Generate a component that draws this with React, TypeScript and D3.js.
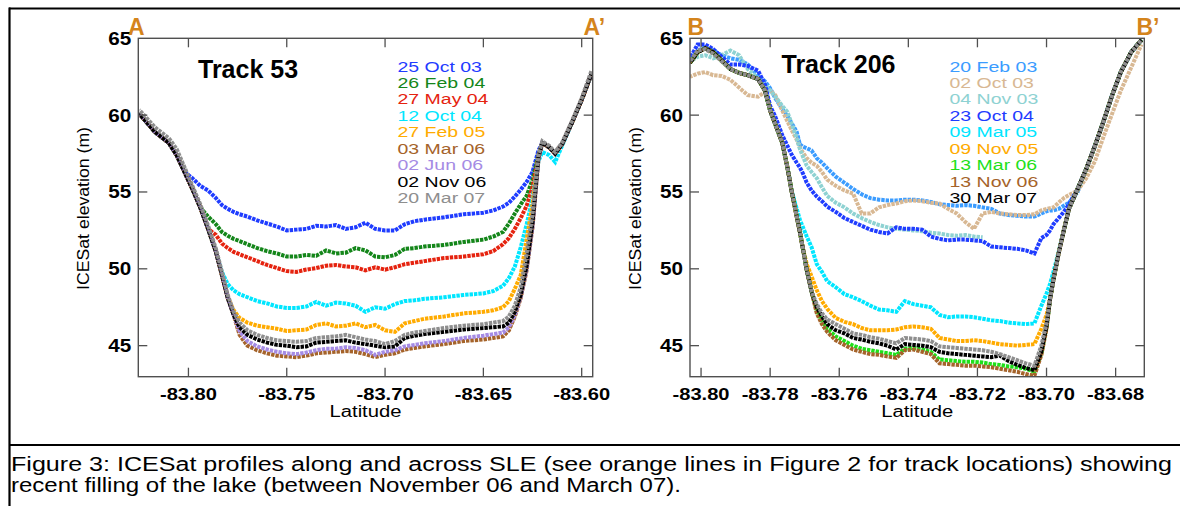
import * as d3 from 'd3'

// elevation axis (both panels)
const Y_MIN = 42.98
const Y_MAX = 65
const Y_TICKS = [45, 50, 55, 60, 65]

// ---- Track 53 ----
const T53_TICKS = [-83.8, -83.75, -83.7, -83.65, -83.6]
const T53_LAT = [-83.825, -83.817, -83.81, -83.806, -83.802, -83.798, -83.794, -83.79, -83.786, -83.783,
  -83.78, -83.777, -83.774, -83.77, -83.765, -83.76, -83.755, -83.75, -83.745, -83.74,
  -83.735, -83.73, -83.725, -83.72, -83.715, -83.71, -83.705, -83.7, -83.695, -83.69,
  -83.685, -83.68, -83.67, -83.66, -83.65, -83.645, -83.64, -83.637, -83.634, -83.631,
  -83.628, -83.625, -83.622, -83.62, -83.6165, -83.6135, -83.61, -83.605, -83.6, -83.595]

const t53_25Oct03 = [60.1, 58.9, 58.2, 57.4, 56.3, 55.9, 55.4, 55.1, 54.6, 54.15, 53.9, 53.7, 53.55, 53.4, 53.15, 52.95, 52.75, 52.5, 52.55, 52.6, 52.8, 52.75, 52.85, 52.6, 52.7, 53.0, 52.6, 52.5, 52.5, 52.9, 53.1, 53.2, 53.35, 53.55, 53.65, 53.8, 54.05, 54.3, 54.7, 55.15, 55.65, 56.3, 57.7, 58.2, 57.9, 57.5, 58.1, 59.5, 61.0, 62.7]
const t53_26Feb04 = [60.1, 58.9, 58.2, 57.4, 56.3, 55.2, 54.0, 53.4, 52.9, 52.4, 52.15, 51.95, 51.8, 51.6, 51.35, 51.15, 51.0, 50.8, 50.8, 50.9, 50.85, 51.2, 51.0, 51.05, 51.35, 51.2, 50.8, 50.75, 50.9, 51.3, 51.35, 51.45, 51.55, 51.75, 51.9, 52.1, 52.4, 52.95, 53.6, 54.2, 54.75, 55.8, 57.4, 58.2, 57.9, 57.5, 58.1, 59.5, 61.0, 62.7]
const t53_27May04 = [60.1, 58.9, 58.2, 57.4, 56.3, 55.2, 54.0, 52.6, 52.2, 51.65, 51.35, 51.1, 50.95, 50.75, 50.5, 50.25, 50.05, 49.85, 49.8, 49.95, 50.05, 50.2, 50.25, 50.15, 50.1, 49.9, 50.1, 49.95, 50.1, 50.3, 50.4, 50.5, 50.7, 50.8, 50.95, 51.15, 51.6, 52.0, 52.6, 53.3, 54.1, 55.3, 57.2, 58.2, 57.9, 57.5, 58.1, 59.5, 61.0, 62.7]
const t53_12Oct04 = [60.1, 58.9, 58.2, 57.4, 56.3, 55.2, 54.0, 52.6, 51.1, 49.8, 49.0, 48.6, 48.35, 48.15, 47.9, 47.75, 47.55, 47.45, 47.45, 47.55, 47.85, 47.6, 47.8, 47.75, 47.6, 47.2, 47.5, 47.4, 47.7, 47.9, 47.95, 48.05, 48.15, 48.3, 48.4, 48.55, 48.9, 49.4, 50.15, 51.4, 52.9, 54.6, 57.0, 57.6, 57.4, 56.95, 58.0, 59.5, 61.0, 62.7]
const t53_27Feb05 = [60.1, 58.9, 58.2, 57.4, 56.3, 55.2, 54.0, 52.6, 51.1, 49.6, 48.1, 47.3, 46.8, 46.5, 46.3, 46.2, 46.1, 45.95, 46.0, 46.05, 46.35, 46.45, 46.25, 46.3, 46.45, 46.2, 46.35, 46.0, 45.9, 46.45, 46.6, 46.75, 46.9, 47.1, 47.2, 47.3, 47.5, 47.9, 48.7, 49.6, 51.9, 54.2, 57.3, 58.2, 57.9, 57.5, 58.1, 59.5, 61.0, 62.7]
const t53_03Mar06 = [60.1, 58.9, 58.2, 57.4, 56.3, 55.2, 54.0, 52.6, 51.1, 49.6, 48.1, 47.0, 45.7, 45.0, 44.7, 44.5, 44.35, 44.3, 44.25, 44.35, 44.5, 44.55, 44.6, 44.65, 44.6, 44.45, 44.25, 44.4, 44.5, 44.75, 44.85, 44.95, 45.1, 45.3, 45.4, 45.5, 45.6, 46.0, 46.9, 48.1, 49.9, 52.7, 57.1, 58.2, 57.9, 57.5, 58.1, 59.5, 61.0, 62.7]
const t53_02Jun06 = [60.1, 58.9, 58.2, 57.4, 56.3, 55.2, 54.0, 52.6, 51.1, 49.6, 48.1, 47.0, 45.95, 45.3, 44.95, 44.75, 44.6, 44.5, 44.45, 44.55, 44.7, 44.8, 44.8, 44.9, 44.85, 44.7, 44.4, 44.6, 44.7, 44.95, 45.05, 45.15, 45.3, 45.5, 45.65, 45.75, 45.85, 46.2, 47.0, 48.2, 50.0, 52.8, 57.2, 58.2, 57.9, 57.5, 58.1, 59.5, 61.0, 62.7]
const t53_02Nov06 = [60.1, 58.9, 58.2, 57.4, 56.3, 55.2, 54.0, 52.6, 51.1, 49.6, 48.1, 47.0, 46.2, 45.7, 45.4, 45.2, 45.05, 45.0, 44.9, 44.95, 45.2, 45.25, 45.3, 45.35, 45.2, 45.1, 45.0, 44.9, 44.95, 45.5, 45.65, 45.75, 45.9, 46.05, 46.15, 46.2, 46.25, 46.5, 47.2, 48.3, 50.2, 53.0, 57.3, 58.2, 57.9, 57.5, 58.1, 59.5, 61.0, 62.7]
const t53_20Mar07 = [60.35, 59.2, 58.5, 57.8, 56.6, 55.4, 54.2, 52.8, 51.3, 49.8, 48.3, 47.2, 46.5, 46.0, 45.7, 45.5, 45.35, 45.3, 45.25, 45.3, 45.5, 45.55, 45.6, 45.7, 45.55, 45.4, 45.3, 45.1, 45.3, 45.7, 45.85, 45.95, 46.15, 46.3, 46.4, 46.5, 46.6, 46.9, 47.6, 48.8, 51.0, 53.6, 57.4, 58.3, 58.0, 57.6, 58.2, 59.6, 61.1, 62.9]

// ---- Track 206 ----
const T206_TICKS = [-83.8, -83.78, -83.76, -83.74, -83.72, -83.7, -83.68]
const T206_LAT = [-83.8032, -83.801, -83.7988, -83.7965, -83.794, -83.7915, -83.789, -83.7865, -83.7835, -83.7815,
  -83.78, -83.7785, -83.7765, -83.775, -83.7737, -83.7723, -83.7714, -83.7705, -83.7694, -83.768,
  -83.7665, -83.765, -83.7635, -83.761, -83.7585, -83.756, -83.7535, -83.751, -83.7485, -83.746,
  -83.7435, -83.741, -83.7385, -83.736, -83.7335, -83.731, -83.7285, -83.726, -83.7235, -83.721,
  -83.7185, -83.716, -83.7135, -83.711, -83.7085, -83.706, -83.7035, -83.7015, -83.7, -83.699,
  -83.698, -83.6965, -83.695, -83.6935, -83.691, -83.6885, -83.686, -83.6835, -83.681, -83.6785,
  -83.6755, -83.6725]

const t206_20Feb03 = [63.6, 64.2, 64.4, 64.2, 63.9, 63.7, 63.6, 63.3, 62.6, 62.2, 61.75, 61.1, 60.4, 59.95, 59.45, 58.9, 58.1, 57.95, 57.85, 57.7, 57.2, 56.9, 56.55, 56.0, 55.6, 55.2, 54.85, 54.6, 54.5, 54.45, 54.45, 54.5, 54.5, 54.45, 54.35, 54.2, 54.15, 54.1, 54.15, 54.1, 54.0, 53.9, 53.6, 53.5, 53.45, 53.4, 53.4, 53.6, 53.75, 53.8, 53.8, 53.9, 54.1, 54.3, 55.0, 56.5, 58.0, 59.6, 61.3, 62.8, 64.1, 64.9]
const t206_02Oct03 = [62.5, 62.7, 62.8, 62.6, 62.55, 62.3, 61.8, 61.3, 61.2, 61.5, 61.6, 61.3, 60.3, 59.6, 59.0, 58.4, 57.9, 57.55, 57.2, 56.9, 56.7, 56.3, 55.8, 55.4, 55.1, 54.9, 53.6, 53.6, 54.0, 54.15, 54.25, 54.4, 54.45, 54.4, 54.3, 54.25, 53.9, 53.6, 53.05, 52.6, 53.6, 53.7, 53.6, 53.55, 53.5, 53.5, 53.55, 53.8, 53.9, 53.95, 54.0, 54.3, 54.6, 54.8, 55.1, 55.9, 57.0, 58.6, 60.1, 61.6, 63.1, 64.6]
const t206_04Nov03 = [63.5, 63.8, 63.9, 63.7, 63.9, 64.2, 63.9, 63.0, 62.4, 62.0, 61.6, 61.2, 60.6, 60.2, 59.4, 58.5, 57.8, 57.3, 56.7, 56.3, 55.9, 55.3, 54.75, 54.3, 54.0, 53.6, 53.3, 53.05, 52.85, 52.7, 52.6, 52.55, 52.5, 52.45, 52.35, 52.3, 52.2, 52.15, 52.2, 52.1, 52.05, null, null, null, null, null, null, null, null, null, null, null, null, null, 55.2, 56.5, 58.0, 59.6, 61.3, 62.8, 64.1, 64.9]
const t206_23Oct04 = [63.7, 64.6, 64.6, 64.3, 63.8, 63.3, 63.3, 63.2, 62.9, 62.0, 60.6, 59.9, 58.7, 58.0, 57.4, 56.9, 56.6, 56.2, 55.6, 55.1, 54.7, 54.4, 54.05, 53.7, 53.3, 53.05, 52.8, 52.55, 52.4, 52.3, 52.7, 52.6, 52.6, 52.55, 52.1, 51.95, 51.85, 51.9, 51.9, 51.85, 51.8, 51.45, 51.4, 51.35, 51.3, 51.2, 51.0, 52.0, 52.2, 52.5, 52.9, 53.3, 53.7, 54.2, 55.2, 56.5, 58.0, 59.6, 61.3, 62.8, 64.1, 64.9]
const t206_09Mar05 = [63.4, 64.1, 64.35, 64.1, 63.55, 63.0, 62.75, 62.6, 62.35, 61.6, 60.3, 59.4, 58.2, 56.6, 55.0, 53.9, 53.2, 52.7, 52.1, 51.4, 50.3, 49.8, 49.2, 48.8, 48.35, 48.15, 47.9, 47.6, 47.35, 47.3, 47.2, 47.9, 47.7, 47.6, 47.5, 47.0, 46.85, 46.9, 46.9, 46.85, 46.75, 46.65, 46.6, 46.5, 46.45, 46.4, 46.45, 47.6, 48.4, 49.0, 49.8, 51.1, 52.5, 53.9, 55.2, 56.5, 58.0, 59.6, 61.3, 62.8, 64.1, 64.9]
const t206_09Nov05 = [63.4, 64.1, 64.35, 64.1, 63.55, 63.0, 62.75, 62.6, 62.35, 61.6, 60.3, 59.4, 58.2, 56.6, 54.95, 53.4, 52.4, 51.3, 50.3, 49.5, 48.6, 47.9, 47.4, 46.8, 46.55, 46.4, 46.15, 46.0, 46.0, 46.0, 46.05, 46.2, 46.25, 46.2, 46.1, 45.5, 45.4, 45.3, 45.3, 45.35, 45.3, 45.2, 45.1, 45.05, 45.0, 45.05, 45.1, 46.1, 47.0, 48.0, 49.3, 51.0, 52.5, 53.9, 55.2, 56.5, 58.0, 59.6, 61.3, 62.8, 64.1, 64.9]
const t206_13Mar06 = [63.4, 64.1, 64.35, 64.1, 63.55, 63.0, 62.75, 62.6, 62.35, 61.6, 60.3, 59.4, 58.2, 56.6, 54.95, 53.4, 52.4, 51.3, 49.9, 48.5, 47.3, 46.6, 46.1, 45.6, 45.3, 45.0, 44.8, 44.7, 44.6, 44.5, 44.4, 44.8, 44.85, 44.75, 44.6, 44.1, 44.05, 44.0, 43.95, 43.95, 43.9, 43.8, 43.75, 43.65, 43.6, 43.5, 43.3, 44.5, 46.2, 48.0, 49.3, 51.0, 52.5, 53.9, 55.2, 56.5, 58.0, 59.6, 61.3, 62.8, 64.1, 64.9]
const t206_13Nov06 = [63.4, 64.1, 64.35, 64.1, 63.55, 63.0, 62.75, 62.6, 62.35, 61.6, 60.3, 59.4, 58.2, 56.6, 54.95, 53.4, 52.4, 51.3, 49.9, 48.5, 47.1, 46.4, 45.9, 45.35, 45.05, 44.75, 44.6, 44.45, 44.4, 44.3, 44.2, 44.7, 44.75, 44.6, 44.45, 43.85, 43.8, 43.75, 43.7, 43.7, 43.65, 43.6, 43.5, 43.4, 43.3, 43.15, 43.05, 44.4, 46.1, 48.0, 49.3, 51.0, 52.5, 53.9, 55.2, 56.5, 58.0, 59.6, 61.3, 62.8, 64.1, 64.9]
const t206_30Mar07 = [63.4, 64.1, 64.35, 64.1, 63.55, 63.0, 62.75, 62.6, 62.35, 61.6, 60.3, 59.4, 58.2, 56.6, 54.95, 53.4, 52.4, 51.3, 49.9, 48.5, 47.5, 46.9, 46.4, 46.0, 45.8, 45.5, 45.4, 45.25, 45.15, 45.0, 44.75, 45.1, 45.05, 45.0, 44.9, 44.6, 44.5, 44.45, 44.4, 44.35, 44.3, 44.25, 44.35, 44.0, 43.75, 43.55, 43.4, 44.6, 46.3, 48.0, 49.3, 51.0, 52.5, 53.9, 55.2, 56.5, 58.0, 59.6, 61.3, 62.8, 64.1, 64.9]
const t206_gray = [63.5, 64.2, 64.3, 64.0, 63.5, 63.0, 62.75, 62.6, 62.35, 61.6, 60.3, 59.4, 58.2, 56.6, 54.95, 53.4, 52.4, 51.3, 49.9, 48.5, 47.7, 47.1, 46.7, 46.4, 46.1, 45.8, 45.7, 45.55, 45.45, 45.3, 45.15, 45.5, 45.45, 45.4, 45.3, 44.95, 44.9, 44.85, 44.8, 44.75, 44.7, 44.6, 44.45, 44.25, 44.05, 43.85, 43.7, 45.0, 46.5, 48.0, 49.3, 51.0, 52.5, 53.9, 55.2, 56.5, 58.0, 59.6, 61.3, 62.8, 64.1, 64.9]

const CAPTION_1 = 'Figure 3: ICESat profiles along and across SLE (see orange lines in Figure 2 for track locations) showing'
const CAPTION_2 = 'recent filling of the lake (between November 06 and March 07).'

const C = {
  blue: '#1f3cff', green: '#14861a', red: '#e5230f', cyan: '#00e6ff', orange: '#ffab00',
  brown: '#a5632a', purple: '#a58be4', black: '#000000', gray: '#8e8e8e',
  sky: '#3b9cff', tan: '#d8b893', teal: '#8ed2d2', lime: '#1ee01a',
}

const T53_SERIES = [
  { label: '25 Oct 03', color: C.blue, values: t53_25Oct03 },
  { label: '26 Feb 04', color: C.green, values: t53_26Feb04 },
  { label: '27 May 04', color: C.red, values: t53_27May04 },
  { label: '12 Oct 04', color: C.cyan, values: t53_12Oct04 },
  { label: '27 Feb 05', color: C.orange, values: t53_27Feb05 },
  { label: '03 Mar 06', color: C.brown, values: t53_03Mar06 },
  { label: '02 Jun 06', color: C.purple, values: t53_02Jun06 },
  { label: '02 Nov 06', color: C.black, values: t53_02Nov06 },
  { label: '20 Mar 07', color: C.gray, values: t53_20Mar07 },
]

const T206_SERIES = [
  { label: '20 Feb 03', color: C.sky, values: t206_20Feb03 },
  { label: '02 Oct 03', color: C.tan, values: t206_02Oct03 },
  { label: '04 Nov 03', color: C.teal, values: t206_04Nov03 },
  { label: '23 Oct 04', color: C.blue, values: t206_23Oct04 },
  { label: '09 Mar 05', color: C.cyan, values: t206_09Mar05 },
  { label: '09 Nov 05', color: C.orange, values: t206_09Nov05 },
  { label: '13 Mar 06', color: C.lime, values: t206_13Mar06 },
  { label: '13 Nov 06', color: C.brown, values: t206_13Nov06 },
  { label: '30 Mar 07', color: C.black, values: t206_30Mar07 },
  { label: null, color: C.gray, values: t206_gray },
]

const FONT = '"Liberation Sans", Arial, Helvetica, sans-serif'
const TOP = 38.3
const BOTTOM = 376.7
const LETTER = '#d4841c'

type Series = { label: string | null; color: string; values: (number | null)[] }

function Panel(props: {
  id: string; left: number; right: number; domain: [number, number]; ticks: number[]
  lat: number[]; series: Series[]; title: string; titleX: number; titleY: number
  legendX: number; yLabelX: number; ends: [string, number, string, number]
}) {
  const { id, left, right, domain, ticks, lat, series } = props
  const x = d3.scaleLinear().domain(domain).range([left, right])
  const y = d3.scaleLinear().domain([Y_MIN, Y_MAX]).range([BOTTOM, TOP])
  const line = d3.line<[number, number | null]>()
    .defined(d => d[1] != null)
    .x(d => x(d[0]))
    .y(d => y(d[1] as number))
  const tick = 9
  const legend = series.filter(s => s.label)

  return (
    <g>
      <defs>
        <clipPath id={id}>
          <rect x={left} y={TOP} width={right - left} height={BOTTOM - TOP} />
        </clipPath>
      </defs>

      {/* profiles: dense dots, drawn as a dashed thick line */}
      <g clipPath={`url(#${id})`}>
        {series.map((s, i) => (
          <path key={i} d={line(lat.map((l, j) => [l, s.values[j]]) as [number, number | null][]) || ''}
            fill="none" stroke={s.color} strokeWidth={4}
            strokeDasharray="3.4 1" strokeDashoffset={i * 0.9} />
        ))}
      </g>

      {/* frame and inward ticks */}
      <rect x={left} y={TOP} width={right - left} height={BOTTOM - TOP} fill="none" stroke="#505050" strokeWidth={1.4} />
      {ticks.map(t => (
        <g key={t} stroke="#505050" strokeWidth={1.3}>
          <line x1={x(t)} x2={x(t)} y1={BOTTOM} y2={BOTTOM - tick} />
          <line x1={x(t)} x2={x(t)} y1={TOP} y2={TOP + tick} />
        </g>
      ))}
      {Y_TICKS.filter(v => v < Y_MAX).map(v => (
        <g key={v} stroke="#505050" strokeWidth={1.3}>
          <line x1={left} x2={left + tick} y1={y(v)} y2={y(v)} />
          <line x1={right} x2={right - tick} y1={y(v)} y2={y(v)} />
        </g>
      ))}

      {/* tick labels */}
      {ticks.map(t => (
        <text key={t} x={x(t)} y={399.5} textAnchor="middle" fontFamily={FONT} fontWeight="bold"
          fontSize={17} textLength={57} lengthAdjust="spacingAndGlyphs">{t.toFixed(2)}</text>
      ))}
      {Y_TICKS.map(v => (
        <text key={v} x={left - 7} y={y(v)} dy="0.36em" textAnchor="end" fontFamily={FONT}
          fontWeight="bold" fontSize={18} textLength={23} lengthAdjust="spacingAndGlyphs">{v}</text>
      ))}

      {/* axis titles */}
      <text x={(left + right) / 2} y={416.5} textAnchor="middle" fontFamily={FONT} fontSize={16}
        textLength={72} lengthAdjust="spacingAndGlyphs">Latitude</text>
      <text transform={`translate(${props.yLabelX},${(TOP + 378.7) / 2}) rotate(-90)`} textAnchor="middle"
        fontFamily={FONT} fontSize={16} textLength={163} lengthAdjust="spacingAndGlyphs">ICESat elevation (m)</text>

      <text x={props.titleX} y={props.titleY} fontFamily={FONT} fontWeight="bold" fontSize={25}>{props.title}</text>

      {legend.map((s, i) => (
        <text key={s.label as string} transform={`translate(${props.legendX},${71.5 + i * 16.45}) scale(1.3,1)`}
          fontFamily={FONT} fontSize={15} fill={s.color}>{s.label}</text>
      ))}

      <text x={props.ends[1]} y={35} fontFamily={FONT} fontWeight="bold" fontSize={23} fill={LETTER}>{props.ends[0]}</text>
      <text x={props.ends[3]} y={35} fontFamily={FONT} fontWeight="bold" fontSize={23} fill={LETTER}>{props.ends[2]}</text>
    </g>
  )
}

export default function App() {
  return (
    <svg width={1180} height={506} viewBox="0 0 1180 506"
      style={{ position: 'absolute', left: 0, top: 0, background: '#fff' }}>
      <rect width={1180} height={506} fill="#fff" />

      <Panel id="t53" left={138.3} right={592.7} domain={[-83.8255, -83.5944]} ticks={T53_TICKS}
        lat={T53_LAT} series={T53_SERIES} title="Track 53" titleX={198} titleY={78}
        legendX={397.5} yLabelX={89} ends={['A', 128, 'A\u2019', 583.5]} />
      <Panel id="t206" left={690} right={1144.3} domain={[-83.8032, -83.6717]} ticks={T206_TICKS}
        lat={T206_LAT} series={T206_SERIES} title="Track 206" titleX={781.5} titleY={72.5}
        legendX={949.5} yLabelX={641} ends={['B', 687.5, 'B\u2019', 1136.5]} />

      {/* figure border */}
      <g stroke="#000" strokeWidth={2.2}>
        <line x1={9} x2={1180} y1={8.5} y2={8.5} />
        <line x1={9.5} x2={9.5} y1={7.4} y2={506} />
        <line x1={9} x2={1180} y1={445} y2={445} />
      </g>

      <text x={11} y={470.5} fontFamily={FONT} fontSize={19.5} textLength={1161} lengthAdjust="spacingAndGlyphs">{CAPTION_1}</text>
      <text x={11} y={491.5} fontFamily={FONT} fontSize={19.5} textLength={670} lengthAdjust="spacingAndGlyphs">{CAPTION_2}</text>
    </svg>
  )
}
